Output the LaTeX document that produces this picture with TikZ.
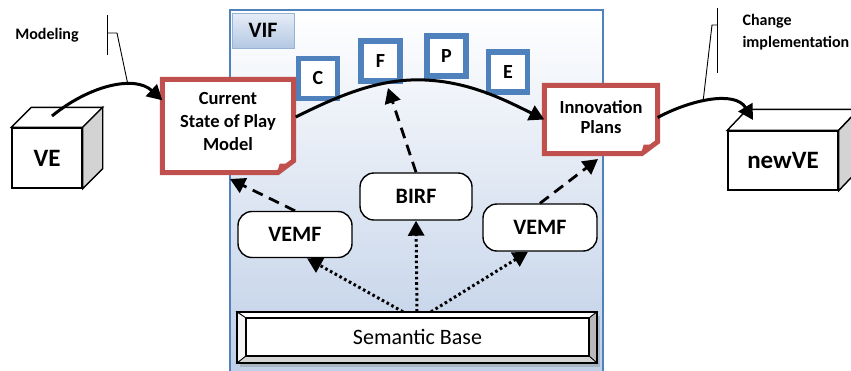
\documentclass[tikz,border=0pt]{standalone}
\usepackage{fontspec}
\setmainfont{Carlito}
\usetikzlibrary{arrows.meta,shadows,calc}
\definecolor{notered}{HTML}{C0504D}
\definecolor{frameblue}{HTML}{4F81BD}
\definecolor{panelblue}{HTML}{BFCFE7}
\definecolor{tabtop}{HTML}{E6EDF7}
\definecolor{tabbot}{HTML}{B4C8E3}
\definecolor{tabline}{HTML}{95B3D7}
\definecolor{sidegray}{HTML}{D3D3D3}
\definecolor{bevellight}{HTML}{F4F4F4}
\definecolor{beveldark}{HTML}{B8B8B8}
\begin{document}
\begin{tikzpicture}[x=1pt,y=-1pt,
  tip/.style={-{Triangle[length=15pt,width=16pt]}},
  flowline/.style={line width=3pt, tip},
  dashflow/.style={line width=2.8pt, dash pattern=on 11pt off 7pt, tip},
  dotflow/.style={line width=3pt, dash pattern=on 2.6pt off 2.8pt, tip},
  callout/.style={line width=0.9pt},
  letterbox/.style={draw=frameblue, line width=5.5pt, fill=white,
    minimum width=39pt, minimum height=40pt, inner sep=0pt,
    font=\bfseries\fontsize{20}{20}\selectfont},
  notebox/.style={minimum width=131pt, minimum height=93pt, inner sep=0pt},
  notepen/.style={draw=notered, line width=5pt, fill=white, line join=miter},
  notetext/.style={align=center, font=\bfseries\fontsize{18.5}{23}\selectfont},
  pill/.style={draw, line width=1.4pt, fill=white, rounded corners=14pt,
    minimum width=114pt, minimum height=46pt, inner sep=0pt,
    font=\bfseries\fontsize{22}{22}\selectfont},
  cubeface/.style={draw, line width=1.4pt, fill=white, inner sep=0pt,
    font=\bfseries\fontsize{25}{25}\selectfont},
  labeltext/.style={font=\bfseries\fontsize{16}{22}\selectfont, align=left}
]
\useasboundingbox (0,0) rectangle (851,370);

% framework panel
\shade[top color=white, bottom color=panelblue] (230,10) rectangle (603,372);
\draw[frameblue, line width=1.5pt] (230,372) -- (230,10) -- (603,10) -- (603,372);
\node[draw=tabline, line width=0.8pt, top color=tabtop, bottom color=tabbot,
  minimum width=62pt, minimum height=35pt, inner sep=0pt,
  font=\bfseries\fontsize{22}{22}\selectfont] (vif) at (263,30.5) {VIF};

% C F P E boxes
\node[letterbox] (bc) at (318,78.5) {C};
\node[letterbox] (bf) at (380.5,61) {F};
\node[letterbox] (bp) at (446.5,56) {P};
\node[letterbox] (be) at (508,72) {E};

% note boxes with folded corner
\node[notebox] (csp) at (228,126) {};
\node[notebox, minimum width=113pt, minimum height=68pt] (ip) at (601,119.5) {};
\foreach \n in {csp,ip}{
  \draw[notepen] (\n.north west) -- (\n.north east)
    -- ($(\n.south east)+(0,-12)$) -- ($(\n.south east)+(-16,0)$)
    -- (\n.south west) -- cycle;
  \fill[notered] ($(\n.south east)+(-17,1)$) -- ($(\n.south east)+(-14,-9)$)
    -- ($(\n.south east)+(-5,-9)$) -- cycle;
}
\node[notetext] at ($(csp.center)+(0,-5)$) {Current\\State of Play\\Model};
\node[notetext, font=\bfseries\fontsize{18.5}{20}\selectfont] at ($(ip.center)+(0,-2)$) {Innovation\\Plans};

% cubes
\node[cubeface, minimum width=70pt, minimum height=60pt] (ve) at (47,158) {VE};
\draw[line width=1.4pt, fill=white] (ve.north west) -- ++(20,-20) -- ($(ve.north east)+(20,-20)$) -- (ve.north east) -- cycle;
\draw[line width=1.4pt, fill=sidegray] (ve.north east) -- ++(20,-20) -- ($(ve.south east)+(20,-20)$) -- (ve.south east) -- cycle;
\node[cubeface, minimum width=110pt, minimum height=59pt] (nve) at (783,160.5) {newVE};
\draw[line width=1.4pt, fill=white] (nve.north west) -- ++(20,-21) -- ($(nve.north east)+(20,-21)$) -- (nve.north east) -- cycle;
\draw[line width=1.4pt, fill=sidegray] (nve.north east) -- ++(20,-21) -- ($(nve.south east)+(20,-21)$) -- (nve.south east) -- cycle;

% pills
\node[pill] (vemfl) at (295,234.5) {VEMF};
\node[pill, minimum width=112pt, minimum height=47pt] (birf) at (416,196.5) {BIRF};
\node[pill, minimum height=47pt] (vemfr) at (540,227.5) {VEMF};

% semantic base (bevelled button)
\fill[white, drop shadow={shadow xshift=3pt, shadow yshift=-4pt, opacity=0.35}] (237,312) rectangle (597,363);
\node[minimum width=360pt, minimum height=51pt, inner sep=0pt] (sb) at (417,337.5) {};
\coordinate (i1) at (246,318);
\coordinate (i2) at (589,318);
\coordinate (i3) at (589,356);
\coordinate (i4) at (246,356);
\draw[line width=0.8pt, fill=white] (sb.north west) -- (sb.north east) -- (i2) -- (i1) -- cycle;
\draw[line width=0.8pt, fill=bevellight] (sb.north west) -- (i1) -- (i4) -- (sb.south west) -- cycle;
\draw[line width=0.8pt, fill=beveldark] (sb.north east) -- (sb.south east) -- (i3) -- (i2) -- cycle;
\draw[line width=0.8pt, fill=sidegray] (sb.south west) -- (i4) -- (i3) -- (sb.south east) -- cycle;
\draw[line width=1.2pt, fill=white] (i1) rectangle (i3);
\draw[line width=1.6pt] (sb.north west) rectangle (sb.south east);
\node[font=\fontsize{22}{22}\selectfont] at ($(i1)!0.5!(i3)$) {Semantic Base};

% labels and callouts
\node[labeltext] (lmod) at (47,35) {Modeling};
\node[labeltext, anchor=north west] (lchg) at (739,11) {Change\\implementation};
\coordinate (mhook) at (128,85);
\coordinate (chook) at (703,102);
\draw[callout] (107,15) -- (107,55);
\draw[callout] (107,33) -- (117,33) -- (mhook);
\draw[callout] (717,8) -- (717,73);
\draw[callout] (717,25) -- (712,25) -- (chook);

% main flow
\coordinate (vestart) at (52,116);
\coordinate (nveend) at (753,120);
\draw[flowline] (vestart) .. controls (90,85) and (135,75) .. ($(csp.north west)+(0,21)$);
\draw[flowline] ($(csp.east)+(2,-9)$) .. controls (340,95) and (380,78) .. (425,80)
  .. controls (470,82) and (505,100) .. (ip.west);
\draw[flowline] ($(ip.east)+(0,-2)$) .. controls (690,100) and (735,90) .. (nveend);

% dashed links
\coordinate (cspin) at (230,179);
\coordinate (fin) at (388,88);
\coordinate (ipin) at (598,159);
\draw[dashflow] (vemfl.north) -- (cspin);
\draw[dashflow] (birf.north) -- (fin);
\draw[dashflow] (vemfr.north) -- (ipin);

% dotted links
\draw[dotflow] ($(sb.north)+(-14,0)$) -- ($(vemfl.south)+(12,0)$);
\draw[dotflow] (sb.north) -- (birf.south);
\draw[dotflow] ($(sb.north)+(14,0)$) -- ($(vemfr.south)+(-12,0)$);
\end{tikzpicture}
\end{document}
